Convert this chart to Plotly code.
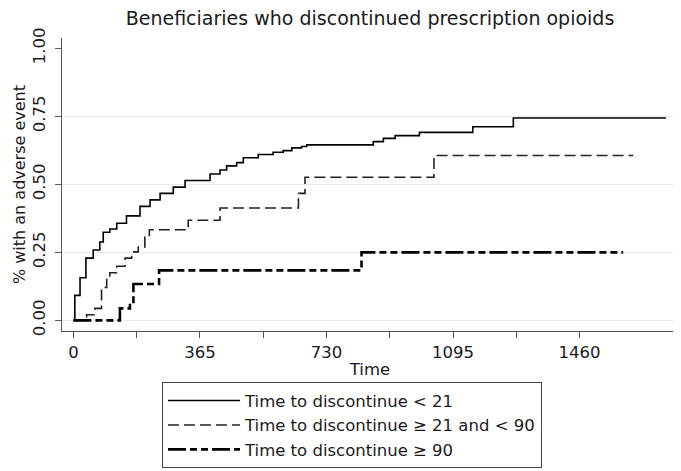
import plotly.graph_objects as go

# Kaplan-Meier style failure estimates
t_lt21 = [0, 4, 19, 36, 57, 76, 86, 105, 125, 153, 192, 221, 250, 288, 322, 394, 423, 442,
          471, 490, 533, 576, 605, 630, 658, 673, 865, 894, 928, 998, 1152, 1269, 1709]
y_lt21 = [0, 0.092, 0.157, 0.229, 0.259, 0.288, 0.324, 0.336, 0.357, 0.384, 0.419, 0.443,
          0.467, 0.49, 0.514, 0.538, 0.553, 0.568, 0.58, 0.598, 0.61, 0.618, 0.624, 0.634,
          0.639, 0.645, 0.657, 0.669, 0.679, 0.691, 0.712, 0.744, 0.744]

t_21_90 = [0, 38, 62, 81, 96, 105, 125, 149, 168, 187, 206, 219, 331, 423, 649, 668, 1040, 1615]
y_21_90 = [0, 0.021, 0.044, 0.121, 0.157, 0.175, 0.199, 0.229, 0.252, 0.27, 0.306, 0.333,
           0.368, 0.413, 0.467, 0.526, 0.606, 0.606]

t_ge90 = [0, 134, 163, 173, 247, 831, 1586]
y_ge90 = [0, 0.044, 0.056, 0.134, 0.184, 0.25, 0.25]

names = ["Time to discontinue < 21",
         "Time to discontinue \u2265 21 and < 90",
         "Time to discontinue \u2265 90"]

x_tickvals = [0, 182.5, 365, 547.5, 730, 912.5, 1095, 1277.5, 1460]
x_ticktext = ["0", "", "365", "", "730", "", "1095", "", "1460"]
y_tickvals = [0, 0.25, 0.5, 0.75, 1.0]
y_ticktext = ["0.00", "0.25", "0.50", "0.75", "1.00"]
grid_vals = [0, 0.25, 0.5, 0.75]

FONT = "DejaVu Sans"
TXT = "#1a1a1a"
AX = "#555555"
XR = [-33, 1744]
YR = [-0.039, 1.038]

fig = go.Figure()
fig.add_trace(go.Scatter(x=t_lt21, y=y_lt21, mode="lines", name=names[0],
                         line=dict(shape="hv", color="black", width=1.6)))
fig.add_trace(go.Scatter(x=t_21_90, y=y_21_90, mode="lines", name=names[1],
                         line=dict(shape="hv", color="#222222", width=1.6, dash="11px,5px")))
fig.add_trace(go.Scatter(x=t_ge90, y=y_ge90, mode="lines", name=names[2],
                         line=dict(shape="hv", color="black", width=2.6,
                                   dash="18px,4px,7px,4px,7px,4px")))

# page body adds a horizontal 8px offset; left/right margins compensate for it
fig.update_layout(
    width=681, height=471,
    margin=dict(l=54, r=11, t=30, b=139.3),
    paper_bgcolor="white", plot_bgcolor="white",
    font=dict(family=FONT, size=16, color=TXT),
    title=dict(text="Beneficiaries who discontinued prescription opioids",
               x=0.5, xref="paper", xanchor="center",
               y=1 - 10 / 471, yanchor="middle",
               font=dict(size=19, color=TXT)),
    xaxis=dict(range=XR, tickmode="array", tickvals=x_tickvals, ticktext=x_ticktext,
               ticks="outside", ticklen=6, tickcolor=AX, showline=True, linecolor=AX,
               linewidth=1, showgrid=False, zeroline=False, automargin=False,
               title=dict(text="Time", standoff=2, font=dict(size=16.5)),
               tickfont=dict(size=16.5)),
    yaxis=dict(range=YR, tickmode="array", tickvals=y_tickvals, ticktext=y_ticktext,
               tickangle=-90, ticks="outside", ticklen=6, tickcolor=AX, showline=True,
               linecolor=AX, linewidth=1, showgrid=False, zeroline=False, automargin=False,
               ticklabelstandoff=3,
               title=dict(text="% with an adverse event", standoff=0, font=dict(size=16)),
               tickfont=dict(size=16.5)),
    yaxis2=dict(range=YR, overlaying="y", tickmode="array", tickvals=grid_vals,
                showticklabels=False, showgrid=True, gridcolor="#e8e8e8", gridwidth=1,
                zeroline=False, showline=False, ticks="", layer="below traces",
                automargin=False),
    legend=dict(x=0.1623, xanchor="left", y=-0.1750, yanchor="top",
                bordercolor="#444444", borderwidth=1, bgcolor="white",
                font=dict(size=16.5, color=TXT), itemwidth=72, tracegroupgap=0),
    showlegend=True,
)
# invisible trace to activate yaxis2 gridlines
fig.add_trace(go.Scatter(x=[None], y=[None], yaxis="y2", showlegend=False, hoverinfo="skip"))

fig.write_html("out.html")
